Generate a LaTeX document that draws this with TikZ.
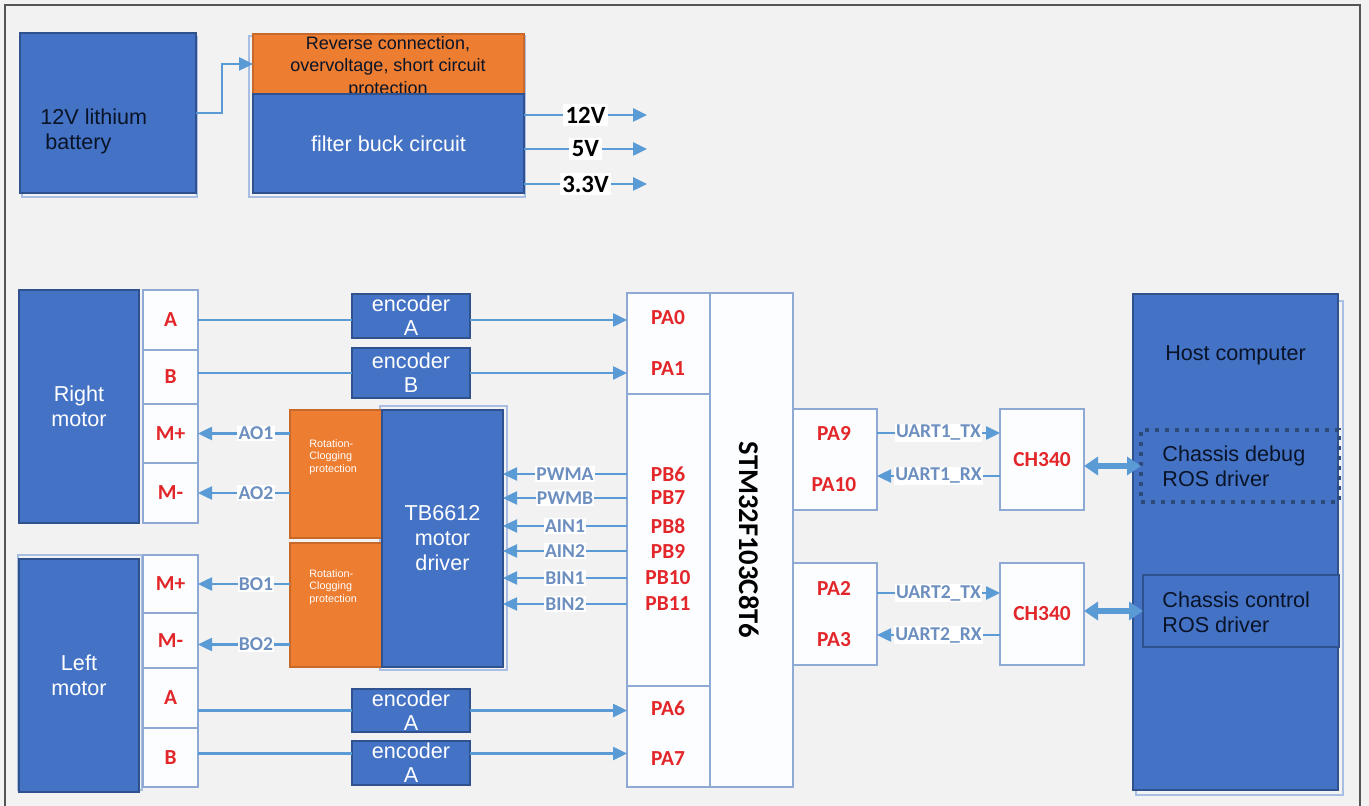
\documentclass[tikz,border=0pt]{standalone}
\usepackage{fontspec}
\setmainfont{Liberation Sans}
\newfontfamily\calfont{Carlito}
\usetikzlibrary{fit,arrows.meta,calc}
\definecolor{bgc}{HTML}{F2F2F2}
\definecolor{framec}{HTML}{555555}
\definecolor{boxblue}{HTML}{4472C4}
\definecolor{boxedge}{HTML}{2F528F}
\definecolor{boxorange}{HTML}{ED7D31}
\definecolor{orangeedge}{HTML}{C8692A}
\definecolor{pinfill}{HTML}{FCFDFE}
\definecolor{pinedge}{HTML}{8DA9D4}
\definecolor{ghostc}{HTML}{A8BFE3}
\definecolor{arrc}{HTML}{5B9BD5}
\definecolor{pinred}{HTML}{E3262A}
\definecolor{sigc}{HTML}{6D8FBF}
\definecolor{dotc}{HTML}{2E4A7C}
\definecolor{darktext}{HTML}{0A1428}
\begin{document}
\begin{tikzpicture}[x=0.5pt,y=-0.5pt,
  box/.style={inner sep=0pt, outer sep=0pt, line width=0.8pt},
  bluebox/.style={box, fill=boxblue, draw=boxedge},
  orangebox/.style={box, fill=boxorange, draw=orangeedge},
  pinbox/.style={box, fill=pinfill, draw=pinedge},
  ghost/.style={draw=ghostc, line width=0.7pt},
  wtext/.style={text=white, font=\fontsize{10.8}{12.5}\selectfont, align=center, inner sep=0pt},
  enctext/.style={text=white, font=\fontsize{10.8}{12}\selectfont, align=center, inner sep=0pt},
  btext/.style={text=darktext, font=\fontsize{10.8}{12.5}\selectfont, inner sep=0pt},
  smalltxt/.style={text=white, font=\fontsize{5.4}{6.3}\selectfont, align=left, inner sep=0pt},
  pinlbl/.style={text=pinred, font=\calfont\bfseries\fontsize{10.7}{12}\selectfont, inner sep=0pt},
  sig/.style={fill=white, text=sigc, font=\calfont\bfseries\fontsize{9.8}{11}\selectfont, inner sep=0.6pt},
  outlbl/.style={fill=white, text=black, font=\calfont\bfseries\fontsize{12.4}{14}\selectfont, inner sep=1.2pt},
  wire/.style={draw=arrc, line width=1.25pt},
  arr/.style={wire, -{Triangle[length=7pt,width=6.5pt]}},
  dbl/.style={draw=arrc, line width=2.6pt, {Triangle[length=7pt,width=9pt]}-{Triangle[length=7pt,width=9pt]}}
]
\useasboundingbox (0,0) rectangle (1369,806);
\fill[bgc] (0,0) rectangle (1369,806);
\draw[framec, line width=0.9pt] (5,806) -- (5,5) -- (1360,5) -- (1360,806);

% shadows / outlines
\draw[ghost] (22,37) rectangle (197,197);
\draw[ghost] (249,36) rectangle (525,197);
\draw[ghost] (380,406) rectangle (507,670);
\draw[ghost] (1136,301) rectangle (1343,795);
\draw[ghost] (18,555) rectangle (142,790);

% ---------- power section ----------
\node[bluebox, fit={(20,33)(196,193)}] (bat) {};
\node[btext, anchor=west, align=left] (battxt) at (40,131) {12V lithium\\\hspace*{2.5pt}battery};
\node[orangebox, fit={(253,34)(524,94)}] (prot) {};
\node[text=darktext, font=\fontsize{9}{11.25}\selectfont, align=center, inner sep=0pt] (prottxt) at (388,67) {Reverse connection,\\overvoltage, short circuit\\protection};
\node[bluebox, fit={(253,94)(524,193)}] (buck) {};
\node[wtext] (buckt) at (buck.center) {filter buck circuit};
\draw[arr] (bat.east) -- ++(26,0) |- (prot.west);

\coordinate (o12) at (647,115);
\coordinate (o5) at (647,149);
\coordinate (o33) at (647,184);
\draw[arr] (buck.east |- o12) -- (o12) node[outlbl, pos=0.5] {12V};
\draw[arr] (buck.east |- o5) -- (o5) node[outlbl, pos=0.5] {5V};
\draw[arr] (buck.east |- o33) -- (o33) node[outlbl, pos=0.5] {3.3V};

% ---------- motors ----------
\node[bluebox, fit={(19,290)(139,523)}] (rmot) {};
\node[wtext] (rmott) at (rmot.center) {Right\\motor};
\node[pinbox, fit={(143,290)(198,350)}] (rA) {};
\node[pinbox, fit={(143,350)(198,404)}] (rB) {};
\node[pinbox, fit={(143,404)(198,463)}] (rMp) {};
\node[pinbox, fit={(143,463)(198,523)}] (rMm) {};
\node[pinlbl] (rAt) at (rA.center) {A};
\node[pinlbl] (rBt) at (rB.center) {B};
\node[pinlbl] (rMpt) at (rMp.center) {M+};
\node[pinlbl] (rMmt) at (rMm.center) {M-};

\node[bluebox, fit={(19,559)(139,792)}] (lmot) {};
\node[wtext] (lmott) at (lmot.center) {Left\\motor};
\node[pinbox, fit={(143,555)(198,613)}] (lMp) {};
\node[pinbox, fit={(143,613)(198,668)}] (lMm) {};
\node[pinbox, fit={(143,668)(198,728)}] (lA) {};
\node[pinbox, fit={(143,728)(198,787)}] (lB) {};
\node[pinlbl] (lMpt) at (lMp.center) {M+};
\node[pinlbl] (lMmt) at (lMm.center) {M-};
\node[pinlbl] (lAt) at (lA.center) {A};
\node[pinlbl] (lBt) at (lB.center) {B};

% ---------- encoders ----------
\node[bluebox, fit={(352,294)(470,338)}] (eA1) {};
\node[bluebox, fit={(352,348)(470,398)}] (eB1) {};
\node[bluebox, fit={(352,689)(470,732)}] (eA2) {};
\node[bluebox, fit={(352,741)(470,785)}] (eA3) {};
\node[enctext] (eA1t) at (eA1.center) {encoder\\A};
\node[enctext] (eB1t) at (eB1.center) {encoder\\B};
\node[enctext] (eA2t) at (eA2.center) {encoder\\A};
\node[enctext] (eA3t) at (eA3.center) {encoder\\A};

% ---------- STM32 ----------
\node[pinbox, fit={(627,293)(710,394)}] (pa01) {};
\node[pinbox, fit={(627,394)(710,686)}] (pb) {};
\node[pinbox, fit={(627,686)(710,787)}] (pa67) {};
\node[pinbox, fit={(710,293)(793,787)}] (chip) {};
\node[rotate=-90, text=black, font=\calfont\bfseries\fontsize{14.3}{16}\selectfont] (chiplbl) at (749,540) {STM32F103C8T6};
\node[pinlbl] (PA0) at (668,318) {PA0};
\node[pinlbl] (PA1) at (668,369) {PA1};
\node[pinlbl] (PB6) at (668,474) {PB6};
\node[pinlbl] (PB7) at (668,498) {PB7};
\node[pinlbl] (PB8) at (668,526) {PB8};
\node[pinlbl] (PB9) at (668,551) {PB9};
\node[pinlbl] (PB10) at (668,578) {PB10};
\node[pinlbl] (PB11) at (668,604) {PB11};
\node[pinlbl] (PA6) at (668,708) {PA6};
\node[pinlbl] (PA7) at (668,759) {PA7};

% encoder wires
\draw[wire] (rA.east) -- (eA1.west |- rA.east);
\draw[arr] (eA1.east |- rA.east) -- (pa01.west |- rA.east);
\draw[wire] (rB.east |- eB1.west) -- (eB1.west);
\draw[arr] (eB1.east) -- (pa01.west |- eB1.east);
\draw[wire] (lA.east |- eA2.west) -- (eA2.west);
\draw[arr] (eA2.east) -- (pa67.west |- eA2.east);
\coordinate (lBo) at ([yshift=2pt]lB.east);
\draw[wire] (lBo) -- (lBo -| eA3.west);
\draw[arr] (lBo -| eA3.east) -- (lBo -| pa67.west);

% ---------- TB6612 ----------
\node[orangebox, fit={(290,410)(382,538)}] (or1) {};
\node[orangebox, fit={(290,543)(382,667)}] (or2) {};
\node[bluebox, fit={(382,410)(503,667)}] (tb) {};
\node[wtext] (tbt) at (tb.center) {TB6612\\motor\\driver};
\node[smalltxt, anchor=west] (or1t) at (309,457) {Rotation-\\Clogging\\protection};
\node[smalltxt, anchor=west] (or2t) at (309,587) {Rotation-\\Clogging\\protection};

\draw[arr] (or1.west |- rMp) -- (rMp.east) node[sig, pos=0.37] {AO1};
\draw[arr] (or1.west |- rMm) -- (rMm.east) node[sig, pos=0.37] {AO2};
\draw[arr] (or2.west |- lMp) -- (lMp.east) node[sig, pos=0.37] {BO1};
\coordinate (bo2) at ([yshift=-2pt]lMm.east);
\draw[arr] (or2.west |- bo2) -- (bo2) node[sig, pos=0.37] {BO2};

\draw[arr] (pb.west |- PB6) -- (tb.east |- PB6) node[sig, pos=0.5] {PWMA};
\draw[arr] (pb.west |- PB7) -- (tb.east |- PB7) node[sig, pos=0.5] {PWMB};
\draw[arr] (pb.west |- PB8) -- (tb.east |- PB8) node[sig, pos=0.5] {AIN1};
\draw[arr] (pb.west |- PB9) -- (tb.east |- PB9) node[sig, pos=0.5] {AIN2};
\draw[arr] (pb.west |- PB10) -- (tb.east |- PB10) node[sig, pos=0.5] {BIN1};
\draw[arr] (pb.west |- PB11) -- (tb.east |- PB11) node[sig, pos=0.5] {BIN2};

% ---------- UART ----------
\node[pinbox, fit={(793,409)(877,510)}] (u1) {};
\node[pinbox, fit={(793,563)(877,665)}] (u2) {};
\node[pinlbl] (PA9) at (834,433) {PA9};
\node[pinlbl] (PA10) at (834,485) {PA10};
\node[pinlbl] (PA2) at (834,588) {PA2};
\node[pinlbl] (PA3) at (834,640) {PA3};
\node[pinbox, fit={(1000,409)(1084,510)}] (ch1) {};
\node[pinbox, fit={(1000,563)(1084,665)}] (ch2) {};
\node[pinlbl] (ch1t) at (ch1.center) {CH340};
\node[pinlbl] (ch2t) at (ch2.center) {CH340};

\coordinate (rx1) at ([yshift=4.5pt]PA10.center);
\coordinate (tx2) at ([yshift=-2.5pt]PA2.center);
\coordinate (rx2) at ([yshift=2.5pt]PA3.center);
\draw[arr] (u1.east |- PA9) -- (ch1.west |- PA9) node[sig, pos=0.5] {UART1\_TX};
\draw[arr] (ch1.west |- rx1) -- (u1.east |- rx1) node[sig, pos=0.5] {UART1\_RX};
\draw[arr] (u2.east |- tx2) -- (ch2.west |- tx2) node[sig, pos=0.5] {UART2\_TX};
\draw[arr] (ch2.west |- rx2) -- (u2.east |- rx2) node[sig, pos=0.5] {UART2\_RX};

% ---------- Host ----------
\node[bluebox, fit={(1133,294)(1338,790)}] (host) {};
\node[btext] (hosttxt) at (1235.5,355) {Host computer};
\node[box, draw=dotc, line width=2pt, dash pattern=on 2pt off 3pt, fit={(1141,430)(1339,502)}] (dbg) {};
\node[btext, anchor=west, align=left] (dbgt) at (1162,466) {Chassis debug\\ROS driver};
\node[bluebox, fit={(1143,575)(1339,647)}] (ctrl) {};
\node[btext, anchor=west, align=left] (ctrlt) at (1162,612) {Chassis control\\ROS driver};

\draw[dbl] (ch1.east |- dbg.west) -- (dbg.west);
\draw[dbl] (ch2.east |- ctrl.west) -- (ctrl.west);
\end{tikzpicture}
\end{document}
